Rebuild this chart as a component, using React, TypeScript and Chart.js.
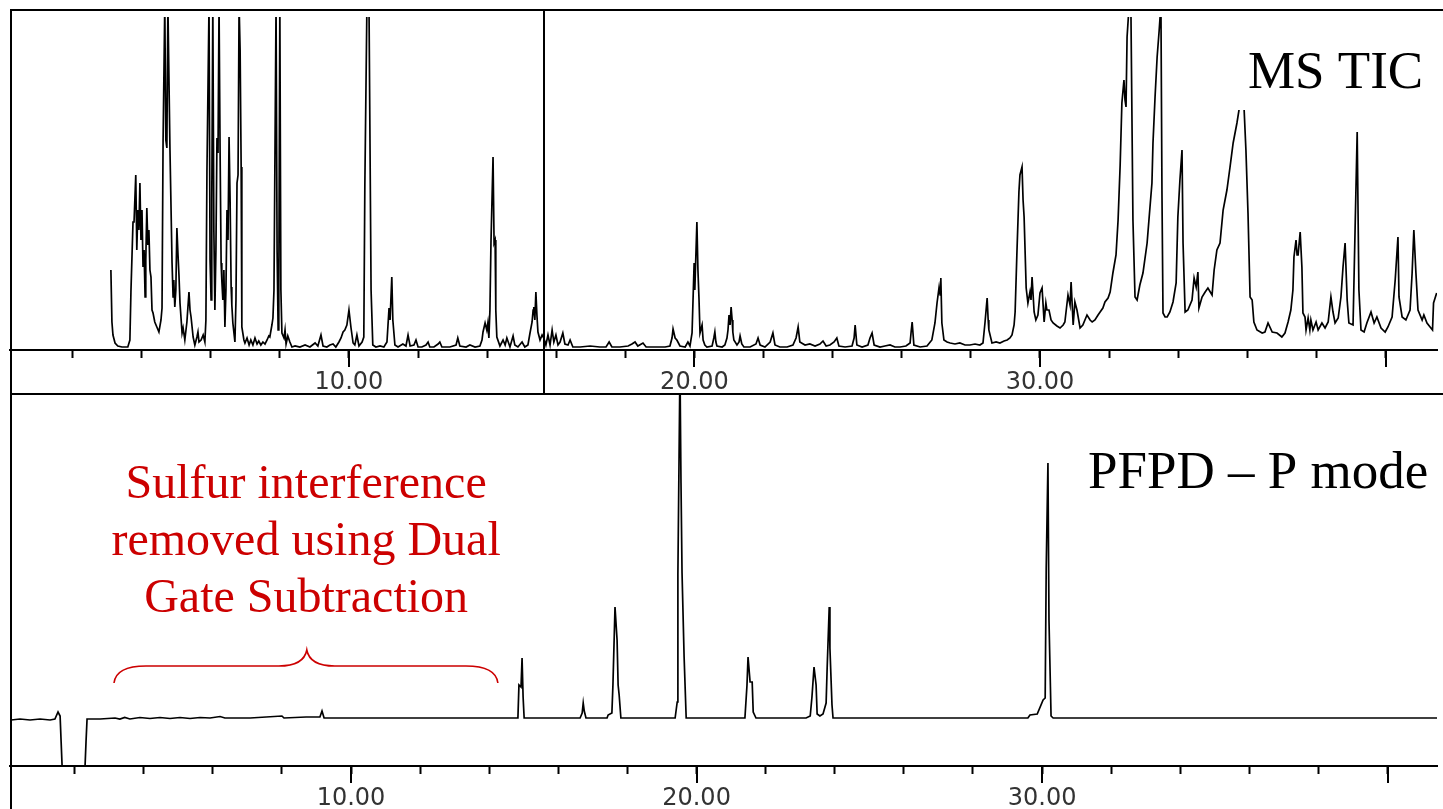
import { useEffect, useRef } from 'react';
import { Chart, registerables } from 'chart.js';

Chart.register(...registerables);

// ---------- data (retention time in minutes, detector response in arbitrary units) ----------
const ticPoints: [number, number][] = [
  [3.11,80],[3.14,28],[3.17,15],[3.23,7],[3.31,4],[3.43,3],[3.60,3],[3.66,10],[3.69,58],[3.75,128],[3.78,128],[3.83,175],[3.86,100],[3.89,140],[3.92,120],[3.95,167],[3.98,110],[4.01,140],[4.04,83],[4.07,100],[4.10,53],[4.12,90],[4.15,142],[4.18,105],[4.21,120],[4.24,80],[4.27,73],[4.30,40],[4.33,37],[4.38,28],[4.44,23],[4.50,18],[4.56,30],[4.59,42],[4.62,208],[4.67,345],[4.70,210],[4.73,202],[4.76,345],[4.82,200],[4.88,87],[4.91,53],[4.93,70],[4.96,43],[4.99,60],[5.02,122],[5.05,97],[5.08,75],[5.11,47],[5.17,17],[5.20,22],[5.25,10],[5.31,28],[5.37,58],[5.40,40],[5.43,33],[5.49,13],[5.54,5],[5.60,13],[5.63,18],[5.66,8],[5.72,10],[5.78,15],[5.83,8],[5.86,30],[5.89,178],[5.95,345],[5.98,90],[6.01,50],[6.03,150],[6.06,345],[6.09,120],[6.12,40],[6.15,100],[6.18,212],[6.21,197],[6.24,345],[6.27,200],[6.30,87],[6.32,70],[6.35,50],[6.38,80],[6.41,23],[6.44,60],[6.47,140],[6.50,110],[6.53,213],[6.56,150],[6.59,63],[6.61,45],[6.64,27],[6.70,8],[6.73,50],[6.76,167],[6.79,175],[6.82,345],[6.85,300],[6.88,183],[6.90,23],[6.96,10],[6.99,7],[7.05,12],[7.11,5],[7.16,10],[7.22,5],[7.28,12],[7.34,6],[7.39,9],[7.45,5],[7.51,8],[7.57,6],[7.63,10],[7.68,14],[7.71,13],[7.77,25],[7.80,32],[7.83,60],[7.89,345],[7.92,100],[7.95,20],[7.97,60],[8.00,345],[8.03,60],[8.06,17],[8.12,12],[8.15,20],[8.18,6],[8.23,14],[8.29,8],[8.35,3],[8.44,4],[8.58,3],[8.73,5],[8.87,3],[9.02,7],[9.10,4],[9.19,15],[9.25,4],[9.36,3],[9.45,5],[9.54,6],[9.62,3],[9.71,8],[9.77,12],[9.83,18],[9.88,20],[9.94,25],[10.00,40],[10.06,22],[10.12,7],[10.17,5],[10.23,15],[10.29,4],[10.38,8],[10.43,13],[10.46,165],[10.52,345],[10.55,345],[10.58,345],[10.64,60],[10.69,5],[10.78,3],[10.90,4],[11.01,3],[11.10,8],[11.16,42],[11.19,30],[11.24,73],[11.27,30],[11.33,5],[11.42,3],[11.56,6],[11.65,4],[11.71,15],[11.77,4],[11.88,5],[11.94,10],[12.00,3],[12.11,3],[12.23,5],[12.29,8],[12.34,3],[12.46,3],[12.58,6],[12.63,8],[12.69,3],[12.92,3],[13.10,5],[13.15,12],[13.21,4],[13.39,3],[13.50,5],[13.65,3],[13.79,4],[13.85,10],[13.88,18],[13.94,27],[13.99,20],[14.02,27],[14.05,12],[14.08,40],[14.11,107],[14.17,193],[14.20,107],[14.23,110],[14.25,40],[14.28,13],[14.37,4],[14.46,10],[14.52,5],[14.57,12],[14.66,3],[14.75,14],[14.80,5],[14.89,3],[15.01,8],[15.09,3],[15.18,5],[15.24,17],[15.30,28],[15.33,40],[15.35,43],[15.38,30],[15.41,58],[15.44,35],[15.47,18],[15.53,10],[15.59,15],[15.64,12],[15.70,5],[15.76,15],[15.82,5],[15.88,20],[15.93,8],[15.99,15],[16.05,5],[16.11,8],[16.19,17],[16.25,6],[16.34,5],[16.40,10],[16.48,3],[16.69,3],[16.98,4],[17.26,3],[17.44,3],[17.53,8],[17.61,3],[17.84,3],[18.08,4],[18.19,6],[18.28,8],[18.36,4],[18.51,7],[18.60,3],[18.86,3],[19.15,3],[19.29,4],[19.35,12],[19.38,21],[19.44,12],[19.49,10],[19.58,4],[19.73,3],[19.81,8],[19.87,4],[19.93,17],[19.99,87],[20.01,60],[20.07,128],[20.10,80],[20.13,52],[20.16,17],[20.22,25],[20.25,10],[20.30,5],[20.36,3],[20.51,4],[20.56,12],[20.59,18],[20.62,8],[20.65,4],[20.80,3],[20.88,5],[20.94,12],[20.97,20],[21.00,35],[21.03,25],[21.06,43],[21.09,30],[21.11,18],[21.14,10],[21.23,5],[21.29,8],[21.32,14],[21.37,6],[21.43,3],[21.61,3],[21.78,6],[21.84,12],[21.90,5],[22.04,3],[22.19,8],[22.27,17],[22.33,5],[22.47,3],[22.68,3],[22.85,5],[22.94,12],[23.00,23],[23.05,8],[23.20,5],[23.34,6],[23.49,4],[23.63,6],[23.72,9],[23.81,4],[23.92,5],[24.04,8],[24.12,12],[24.18,4],[24.36,3],[24.56,4],[24.62,12],[24.65,25],[24.70,5],[24.85,3],[25.02,5],[25.08,12],[25.14,17],[25.20,5],[25.37,3],[25.51,4],[25.66,5],[25.80,3],[25.95,3],[26.12,4],[26.24,7],[26.27,18],[26.30,28],[26.35,5],[26.53,3],[26.73,4],[26.87,10],[26.96,27],[27.02,47],[27.08,63],[27.11,55],[27.13,72],[27.16,27],[27.22,10],[27.31,8],[27.40,7],[27.54,6],[27.68,7],[27.83,5],[27.97,5],[28.12,6],[28.26,5],[28.35,7],[28.41,28],[28.47,52],[28.50,30],[28.52,20],[28.61,7],[28.73,8],[28.84,7],[28.96,9],[29.05,10],[29.13,12],[29.19,15],[29.25,25],[29.28,38],[29.33,95],[29.39,158],[29.42,175],[29.48,183],[29.51,150],[29.54,133],[29.60,62],[29.65,47],[29.71,58],[29.74,50],[29.77,73],[29.83,38],[29.88,30],[29.94,35],[30.00,57],[30.06,62],[30.12,28],[30.17,47],[30.20,40],[30.26,40],[30.32,30],[30.38,27],[30.49,24],[30.58,22],[30.67,25],[30.72,28],[30.81,55],[30.87,45],[30.90,68],[30.96,25],[31.01,48],[31.07,40],[31.16,22],[31.24,25],[31.36,35],[31.45,30],[31.51,28],[31.59,30],[31.68,35],[31.74,38],[31.82,42],[31.88,48],[31.97,52],[32.03,58],[32.11,77],[32.20,95],[32.26,130],[32.32,185],[32.37,247],[32.43,270],[32.46,250],[32.49,243],[32.52,313],[32.58,345],[32.63,345],[32.69,130],[32.75,53],[32.81,50],[32.89,65],[32.98,77],[33.10,107],[33.16,133],[33.24,167],[33.27,207],[33.33,253],[33.39,293],[33.45,320],[33.50,345],[33.53,157],[33.56,37],[33.62,33],[33.68,33],[33.76,38],[33.85,48],[33.94,67],[33.99,133],[34.05,170],[34.11,200],[34.14,107],[34.20,38],[34.28,40],[34.40,50],[34.46,72],[34.52,63],[34.57,78],[34.60,42],[34.69,53],[34.78,58],[34.86,62],[34.98,55],[35.04,80],[35.12,100],[35.21,107],[35.30,140],[35.41,160],[35.50,183],[35.59,207],[35.70,227],[35.76,240],[35.82,265],[35.88,262],[35.96,200],[36.02,137],[36.08,53],[36.14,50],[36.19,28],[36.28,20],[36.43,17],[36.51,18],[36.60,27],[36.72,18],[36.86,17],[37.00,13],[37.09,17],[37.18,28],[37.26,40],[37.32,60],[37.35,93],[37.41,110],[37.44,95],[37.47,95],[37.53,118],[37.58,83],[37.61,37],[37.67,33],[37.70,20],[37.76,32],[37.81,20],[37.84,30],[37.90,20],[37.99,28],[38.05,20],[38.16,27],[38.25,22],[38.34,28],[38.42,53],[38.48,38],[38.54,27],[38.63,32],[38.71,53],[38.77,83],[38.83,107],[38.89,50],[38.94,27],[39.06,25],[39.12,122],[39.18,218],[39.23,60],[39.29,20],[39.38,18],[39.46,27],[39.58,38],[39.67,27],[39.75,33],[39.87,22],[39.99,18],[40.07,23],[40.19,33],[40.28,70],[40.36,113],[40.39,53],[40.48,33],[40.59,30],[40.71,40],[40.77,77],[40.82,120],[40.88,77],[40.94,40],[41.06,30],[41.11,35],[41.20,27],[41.29,23],[41.36,20],[41.39,47],[41.48,57]
];

const pfpdPoints: [number, number][] = [
  [0.16,46],[0.42,47],[0.71,46],[1.00,47],[1.29,46],[1.43,47],[1.52,54],[1.58,50],[1.61,24],[1.64,-2],[2.30,-2],[2.33,24],[2.36,47],[2.74,47],[3.17,48],[3.31,47],[3.45,48.5],[3.60,47],[3.89,48.5],[4.18,47.5],[4.47,48.5],[4.76,47.5],[5.05,48.5],[5.34,47.5],[5.63,48.5],[5.92,48],[6.21,49.5],[6.35,48],[7.08,48],[8.00,50],[8.06,48],[8.70,49],[9.10,49],[9.16,55],[9.22,48],[11.42,48],[14.83,48],[14.86,81],[14.92,79],[14.95,108],[14.98,69],[15.01,48],[16.63,48],[16.69,53],[16.72,63],[16.75,55],[16.80,48],[17.41,48],[17.44,51],[17.55,53],[17.58,81],[17.64,159],[17.70,126],[17.73,81],[17.76,71],[17.81,48],[19.38,48],[19.44,64],[19.46,191],[19.52,400],[19.55,283],[19.58,193],[19.64,109],[19.70,48],[21.40,48],[21.46,81],[21.49,109],[21.55,84],[21.61,84],[21.64,54],[21.72,48],[23.17,48],[23.29,50],[23.34,69],[23.40,99],[23.46,81],[23.49,52],[23.57,50],[23.66,52],[23.75,63],[23.78,98],[23.84,159],[23.86,118],[23.92,61],[23.95,48],[29.59,48],[29.65,51],[29.86,52],[30.03,66],[30.09,68],[30.12,198],[30.14,198],[30.17,303],[30.20,146],[30.26,50],[30.32,48],[41.43,48]
];

// axis ranges and ticks
const TOP_X_RANGE = [0.19, 41.49];
const BOTTOM_X_RANGE = [0.13, 41.43];
const TOP_Y_RANGE = [0, 333];
const BOTTOM_Y_RANGE = [0, 371];
const TICK_VALUES = [2, 4, 6, 8, 10, 12, 14, 16, 18, 20, 22, 24, 26, 28, 30, 32, 34, 36, 38, 40];
const MAJOR_TICKS = [10, 20, 30, 40];
const LABELED_TICKS = [10, 20, 30];

// annotations (in data units)
const CURSOR_TIME = 15.64;
const TIC_LABEL = 'MS TIC';
const TIC_LABEL_POS = [41.09, 262];
const TIC_MASK_FROM = [35.73, 240];
const PFPD_LABEL = 'PFPD \u2013 P mode';
const PFPD_LABEL_POS = [31.33, 278];
const NOTE_LINES = ['Sulfur interference', 'removed using Dual', 'Gate Subtraction'];
const NOTE_X = 8.7;
const NOTE_Y = [268, 211, 154];
const BRACE_X = [3.14, 8.72, 14.25]; // left, tip, right
const BRACE_Y = [83, 100, 116]; // ends, bar, tip

const RED = '#CC0000';
const AXIS_FONT = { family: '"DejaVu Sans", sans-serif', size: 24 };

function xAxis(range: number[], axisHeight: number) {
  return {
    type: 'linear' as const,
    min: range[0],
    max: range[1],
    afterBuildTicks: (axis: any) => {
      axis.ticks = TICK_VALUES.map((value) => ({ value }));
    },
    afterFit: (axis: any) => {
      axis.height = axisHeight;
    },
    ticks: {
      autoSkip: false,
      maxRotation: 0,
      padding: 10,
      color: '#333',
      font: AXIS_FONT,
      callback: (v: any) => (LABELED_TICKS.includes(Number(v)) ? Number(v).toFixed(2) : ''),
    },
    grid: {
      drawOnChartArea: false,
      drawTicks: true,
      tickLength: 8,
      tickColor: '#000',
      tickWidth: 2,
      color: '#000',
    },
    border: { display: true, color: '#000', width: 2 },
  };
}

function yAxis(range: number[]) {
  return { type: 'linear' as const, display: false, min: range[0], max: range[1] };
}

function majorTicks(chart: any) {
  const { ctx, chartArea, scales } = chart;
  ctx.save();
  ctx.strokeStyle = '#000';
  ctx.lineWidth = 2;
  MAJOR_TICKS.forEach((v) => {
    const x = Math.round(scales.x.getPixelForValue(v));
    ctx.beginPath();
    ctx.moveTo(x, chartArea.bottom);
    ctx.lineTo(x, chartArea.bottom + 17);
    ctx.stroke();
  });
  ctx.restore();
}

const topDecor = {
  id: 'topDecor',
  afterDatasetsDraw(chart: any) {
    const { ctx, chartArea, scales } = chart;
    const mx = scales.x.getPixelForValue(TIC_MASK_FROM[0]);
    const my = scales.y.getPixelForValue(TIC_MASK_FROM[1]);
    ctx.save();
    ctx.fillStyle = '#fff';
    ctx.fillRect(mx, chartArea.top - 2, chartArea.right - mx + 4, my - chartArea.top + 2);
    ctx.fillStyle = '#000';
    ctx.font = '53px "Liberation Serif", "Times New Roman", serif';
    ctx.textAlign = 'right';
    ctx.textBaseline = 'alphabetic';
    ctx.fillText(TIC_LABEL, scales.x.getPixelForValue(TIC_LABEL_POS[0]), scales.y.getPixelForValue(TIC_LABEL_POS[1]));
    ctx.restore();
  },
  afterDraw(chart: any) {
    const { ctx, scales, width, height } = chart;
    majorTicks(chart);
    ctx.save();
    ctx.strokeStyle = '#000';
    ctx.lineWidth = 2;
    ctx.beginPath();
    ctx.moveTo(10, 10);
    ctx.lineTo(width, 10);
    ctx.moveTo(11, 9);
    ctx.lineTo(11, height);
    ctx.moveTo(10, height - 1);
    ctx.lineTo(width, height - 1);
    const cx = Math.round(scales.x.getPixelForValue(CURSOR_TIME));
    ctx.moveTo(cx, 10);
    ctx.lineTo(cx, height - 1);
    ctx.stroke();
    ctx.restore();
  },
};

const bottomDecor = {
  id: 'bottomDecor',
  afterDraw(chart: any) {
    const { ctx, scales, height } = chart;
    majorTicks(chart);
    const sx = scales.x;
    const sy = scales.y;
    ctx.save();
    ctx.strokeStyle = '#000';
    ctx.lineWidth = 2;
    ctx.beginPath();
    ctx.moveTo(11, 0);
    ctx.lineTo(11, height);
    ctx.stroke();

    ctx.fillStyle = '#000';
    ctx.font = '53px "Liberation Serif", "Times New Roman", serif';
    ctx.textAlign = 'left';
    ctx.textBaseline = 'alphabetic';
    ctx.fillText(PFPD_LABEL, sx.getPixelForValue(PFPD_LABEL_POS[0]), sy.getPixelForValue(PFPD_LABEL_POS[1]));

    ctx.fillStyle = RED;
    ctx.font = '48px "Liberation Serif", "Times New Roman", serif';
    ctx.textAlign = 'center';
    NOTE_LINES.forEach((line, i) => {
      ctx.fillText(line, sx.getPixelForValue(NOTE_X), sy.getPixelForValue(NOTE_Y[i]));
    });

    const xl = sx.getPixelForValue(BRACE_X[0]);
    const xt = sx.getPixelForValue(BRACE_X[1]);
    const xr = sx.getPixelForValue(BRACE_X[2]);
    const yE = sy.getPixelForValue(BRACE_Y[0]);
    const yM = sy.getPixelForValue(BRACE_Y[1]);
    const yT = sy.getPixelForValue(BRACE_Y[2]);
    ctx.strokeStyle = RED;
    ctx.lineWidth = 1.6;
    ctx.beginPath();
    ctx.moveTo(xl, yE);
    ctx.quadraticCurveTo(xl + 2, yM, xl + 32, yM);
    ctx.lineTo(xt - 28, yM);
    ctx.quadraticCurveTo(xt - 3, yM, xt, yT);
    ctx.quadraticCurveTo(xt + 3, yM, xt + 28, yM);
    ctx.lineTo(xr - 32, yM);
    ctx.quadraticCurveTo(xr - 2, yM, xr, yE);
    ctx.stroke();
    ctx.restore();
  },
};

function lineDataset(points: [number, number][]) {
  return {
    data: points.map(([x, y]) => ({ x, y })),
    borderColor: '#000',
    borderWidth: 1.7,
    pointRadius: 0,
    tension: 0,
    fill: false,
  };
}

export default function App() {
  const topRef = useRef<HTMLCanvasElement>(null);
  const botRef = useRef<HTMLCanvasElement>(null);

  useEffect(() => {
    const common = {
      responsive: false,
      animation: false as const,
      events: [] as any[],
      plugins: { legend: { display: false }, tooltip: { enabled: false } },
    };
    const top = new Chart(topRef.current!, {
      type: 'line',
      data: { datasets: [lineDataset(ticPoints)] },
      options: {
        ...common,
        layout: { padding: { left: 10, right: 6, top: 17, bottom: 0 } },
        scales: { x: xAxis(TOP_X_RANGE, 45), y: yAxis(TOP_Y_RANGE) },
      } as any,
      plugins: [topDecor],
    });
    const bot = new Chart(botRef.current!, {
      type: 'line',
      data: { datasets: [lineDataset(pfpdPoints)] },
      options: {
        ...common,
        layout: { padding: { left: 10, right: 6, top: 0, bottom: 0 } },
        scales: { x: xAxis(BOTTOM_X_RANGE, 43), y: yAxis(BOTTOM_Y_RANGE) },
      } as any,
      plugins: [bottomDecor],
    });
    return () => {
      top.destroy();
      bot.destroy();
    };
  }, []);

  return (
    <div style={{ position: 'absolute', left: 0, top: 0, width: 1443, height: 809, background: '#fff', overflow: 'hidden' }}>
      <canvas ref={topRef} width={1443} height={395} style={{ display: 'block', width: 1443, height: 395 }} />
      <canvas ref={botRef} width={1443} height={414} style={{ display: 'block', width: 1443, height: 414 }} />
    </div>
  );
}
